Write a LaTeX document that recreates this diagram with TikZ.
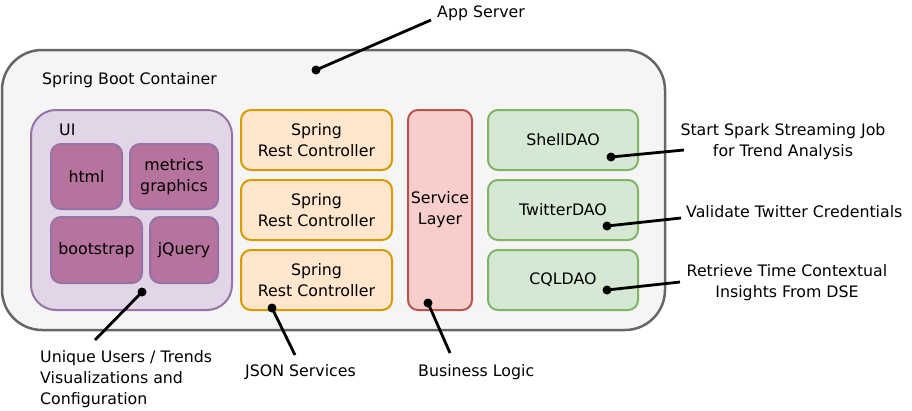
\documentclass[tikz,border=0pt]{standalone}
\usepackage{fontspec}
\setmainfont{DejaVu Sans}
\definecolor{outerfill}{HTML}{F5F5F5}
\definecolor{outerline}{HTML}{666666}
\definecolor{uifill}{HTML}{E1D5E7}
\definecolor{uiline}{HTML}{9673A6}
\definecolor{libfill}{HTML}{B5739D}
\definecolor{orfill}{HTML}{FFE6CC}
\definecolor{orline}{HTML}{D79B00}
\definecolor{rdfill}{HTML}{F8CECC}
\definecolor{rdline}{HTML}{B85450}
\definecolor{grfill}{HTML}{D5E8D4}
\definecolor{grline}{HTML}{82B366}
\begin{document}
\begin{tikzpicture}[x=1pt,y=-1pt,
  every node/.style={font=\fontsize{15.8}{21}\selectfont},
  box/.style={draw, rounded corners=10pt, line width=2pt, inner sep=0pt, align=center},
  libbox/.style={box, fill=libfill, draw=uiline},
  restbox/.style={box, fill=orfill, draw=orline, minimum width=151pt, minimum height=60pt},
  daobox/.style={box, fill=grfill, draw=grline, minimum width=150pt, minimum height=60pt},
  dot/.style={circle, fill=black, inner sep=0pt, minimum size=9pt},
  conn/.style={line width=2.8pt, black},
  lbl/.style={inner sep=0pt, align=left}]
\useasboundingbox (0,0) rectangle (912,410);
% outer container
\node[box, fill=outerfill, draw=outerline, line width=2.5pt, rounded corners=40pt,
  minimum width=663pt, minimum height=280pt] (app) at (333.5,190) {};
\node[lbl, anchor=west] (sbc) at (42,80) {Spring Boot Container};
% UI
\node[box, fill=uifill, draw=uiline, rounded corners=25pt,
  minimum width=201pt, minimum height=200pt] (ui) at (131.5,210) {};
\node[lbl, anchor=west] (uit) at (59,130) {UI};
\node[libbox, minimum width=71pt, minimum height=65pt] (html) at (86.5,176.5) {html};
\node[libbox, minimum width=88pt, minimum height=65pt] (metrics) at (174,176.5) {metrics\\graphics};
\node[libbox, minimum width=91pt, minimum height=66pt] (boot) at (96.5,250) {bootstrap};
\node[libbox, minimum width=68pt, minimum height=66pt] (jq) at (184,250) {jQuery};
% rest controllers
\node[restbox] (rc1) at (316.5,140) {Spring\\Rest Controller};
\node[restbox] (rc2) at (316.5,210) {Spring\\Rest Controller};
\node[restbox] (rc3) at (316.5,280) {Spring\\Rest Controller};
% service layer
\node[box, fill=rdfill, draw=rdline, minimum width=64pt, minimum height=200pt] (svc) at (440,210) {Service\\Layer};
% DAOs
\node[daobox] (shell) at (563,140) {ShellDAO};
\node[daobox] (tw) at (563,210) {TwitterDAO};
\node[daobox] (cql) at (563,280) {CQLDAO};
% dots
\node[dot] (dApp) at (316,70) {};
\node[dot] (dUI) at (142,292) {};
\node[dot] (dJson) at (272,308) {};
\node[dot] (dBiz) at (428,303) {};
\node[dot] (dShell) at (611,157) {};
\node[dot] (dTw) at (607,226) {};
\node[dot] (dCql) at (607,290) {};
% label ends
\coordinate (eApp) at (431,20);
\coordinate (eUI) at (95,340);
\coordinate (eJson) at (295,355);
\coordinate (eBiz) at (450,353);
\coordinate (eShell) at (684,150);
\coordinate (eTw) at (681,218);
\coordinate (eCql) at (680,282);
% labels
\node[lbl, anchor=west] (lApp) at (437,13) {App Server};
\node[lbl, anchor=north west] (lUI) at (40,350) {Unique Users / Trends\\Visualizations and\\Configuration};
\node[lbl, anchor=west] (lJson) at (245,372) {JSON Services};
\node[lbl, anchor=west] (lBiz) at (418,372) {Business Logic};
\node[lbl, align=center] (lShell) at (783,141.5) {Start Spark Streaming Job\\for Trend Analysis};
\node[lbl, anchor=west] (lTw) at (686,212) {Validate Twitter Credentials};
\node[lbl, align=center] (lCql) at (787,283) {Retrieve Time Contextual\\Insights From DSE};
% connectors
\draw[conn] (dApp.center) -- (eApp);
\draw[conn] (dUI.center) -- (eUI);
\draw[conn] (dJson.center) -- (eJson);
\draw[conn] (dBiz.center) -- (eBiz);
\draw[conn] (dShell.center) -- (eShell);
\draw[conn] (dTw.center) -- (eTw);
\draw[conn] (dCql.center) -- (eCql);
\end{tikzpicture}
\end{document}
